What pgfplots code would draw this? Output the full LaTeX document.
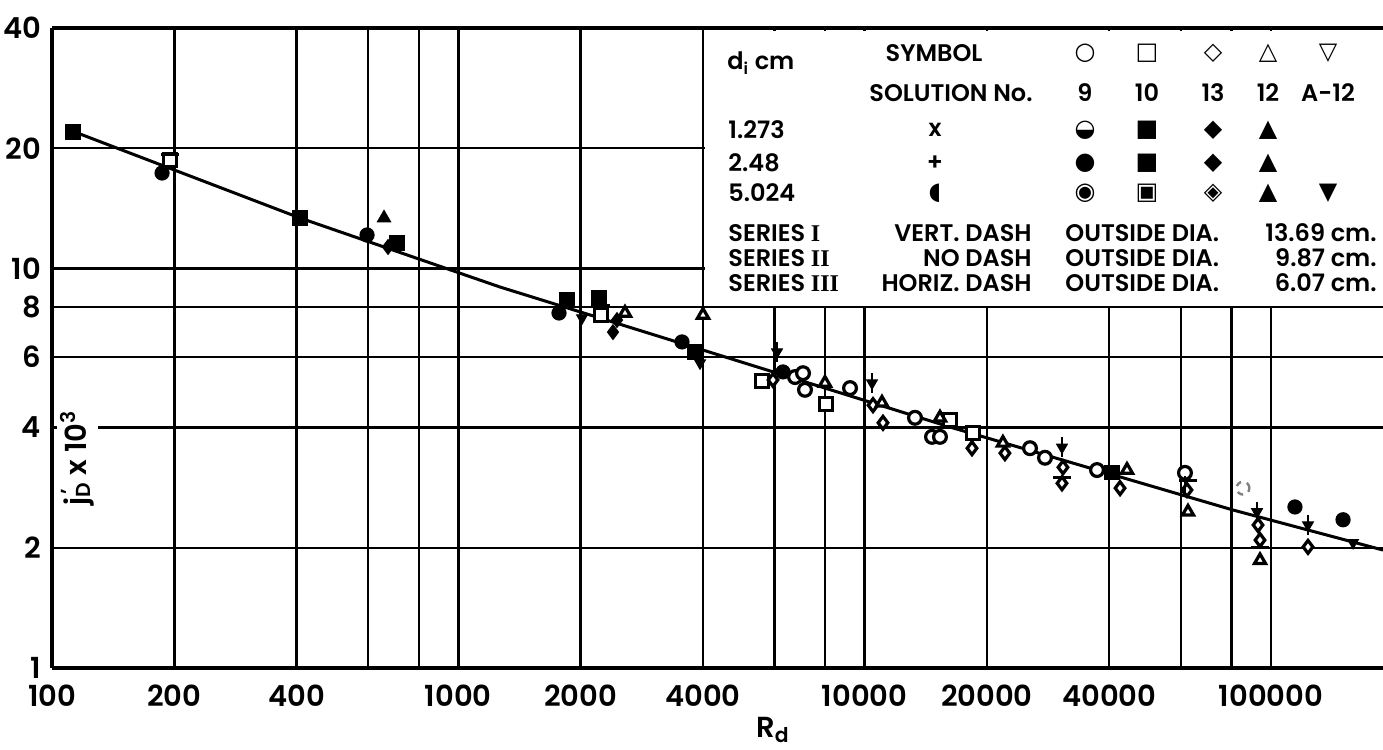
\documentclass[border=0pt]{standalone}
\usepackage{pgfplots}
\pgfplotsset{compat=1.18}
\usepackage{fontspec}
\setmainfont{Poppins}[BoldFont={Poppins SemiBold}]
\newfontfamily\sym{DejaVu Sans}
\newfontfamily\rn{Liberation Serif}
\newcommand\lab{\fontsize{14.5}{16}\selectfont\bfseries}
\newcommand\leg{\fontsize{12}{14}\selectfont\bfseries}
\newcommand\sy{\sym\fontsize{12}{12}\selectfont}
\pgfplotsset{
  fm/.style={only marks, mark size=3.3pt, mark options={draw=black, fill=black, line width=1pt, solid}},
  hm/.style={only marks, mark size=3.2pt, mark options={draw=black, fill=white, line width=1.6pt, solid}},
}
\begin{document}
\begin{tikzpicture}
\begin{axis}[
  xmode=log, ymode=log,
  scale only axis, width=665.5pt, height=320pt,
  xmin=100, xmax=188800, ymin=1, ymax=40,
  axis x line*=box, axis y line*=left,
  axis line style={line width=1.8pt},
  xtick={100,200,400,600,800,1000,2000,4000,6000,8000,10000,20000,40000,60000,80000,100000},
  xticklabels={100,200,400,{},{},1000,2000,4000,{},{},10000,20000,40000,{},{},100000},
  ytick={1,2,4,6,8,10,20,40},
  yticklabels={1,2,4,6,8,10,20,40},
  minor xtick={}, minor ytick={},
  major tick length=0pt,
  grid=major,
  major grid style={black, line width=1.2pt},
  tick label style={font=\lab},
  xticklabel style={yshift=-5pt},
  yticklabel style={xshift=-2pt},
  clip=false,
]
% legend area blanks the grid
\fill[white] (axis cs:4040,8.06) rectangle (rel axis cs:1.01,0.996);

% fitted curve
\addplot[no marks, line width=1.5pt] coordinates {(110.7,22.2) (407.8,13.38) (1266,8.99) (4002,6.25) (16230,4.01) (80680,2.486) (188800,1.974)};

% filled circles
\addplot[fm, mark=*] coordinates {(186.6,17.34) (596.2,12.13) (1769.5,7.74) (3553,6.55) (6298,5.51) (114600,2.53) (150500,2.35)};
% filled squares
\addplot[fm, mark=square*] coordinates {(112.6,21.96) (407.7,13.38) (706.6,11.58) (1851,8.34) (2220,8.44) (3824,6.18) (40630,3.09)};
% filled triangles
\addplot[fm, mark=triangle*] coordinates {(656.4,13.38)};
% filled diamonds
\addplot[fm, mark=diamond*] coordinates {(671.5,11.32) (2403,6.93) (2458,7.43)};
% hollow circles
\addplot[hm, mark=*] coordinates {(6742,5.35) (7054,5.47) (7134,4.97) (9207,5.02) (13305,4.23) (14655,3.79) (15330,3.79) (25530,3.55) (27800,3.36) (37330,3.13) (61450,3.08)};
\addplot[only marks, mark=*, mark size=3.2pt, mark options={draw=gray, fill=white, line width=1.2pt, dashed}] coordinates {(85370,2.82)};
% hollow squares
\addplot[hm, mark=square*] coordinates {(195.1,18.69) (2245,7.65) (5590,5.23) (8035,4.58) (16230,4.18) (18490,3.87)};
% hollow diamonds
\addplot[hm, mark=diamond*] coordinates {(5951,5.26) (10488,4.55) (11099,4.11) (18380,3.55) (22150,3.45) (30780,3.18) (30610,2.90) (42530,2.82) (62150,2.79) (92950,2.28) (94020,2.09) (123400,2.01)};
% hollow triangles
\addplot[hm, mark=triangle*] coordinates {(2572,7.74) (4002,7.65) (7989,5.17) (11035,4.61) (15330,4.23) (21900,3.66) (44240,3.13) (62510,2.46) (94020,1.86)};
% hollow inverted triangles
\addplot[hm, mark=triangle*, mark options={rotate=180}] coordinates {(2016,7.52) (3935,5.80) (6087,6.18) (10428,5.17) (30610,3.57) (92430,2.46) (123400,2.28) (159300,2.06)};
% series dashes
\addplot[only marks, mark=|, mark size=5pt, mark options={line width=1.4pt}] coordinates {(6087,6.18) (10428,5.17) (30610,3.57) (92430,2.46) (123400,2.28) (61450,2.85)};
\addplot[only marks, mark=-, mark size=4.5pt, mark options={line width=1.4pt}] coordinates {(195.1,19.3) (2245,8.1) (62510,2.95) (94020,2.0) (30610,3.0)};

% y label
\node[rotate=90, fill=white, inner sep=2pt, font=\lab] at (rel axis cs:0.019,0.328) {j\rlap{\textsuperscript{\,'}}\textsubscript{D} x 10\textsuperscript{3}};
% x label
\node[font=\lab, yshift=-31pt] at (rel axis cs:0.5417,0) {R\textsubscript{d}};

% legend table
\node[anchor=west, inner sep=0, font=\leg] at (rel axis cs:0.5071,0.9453) {d\textsubscript{i} cm};
\node[inner sep=0, font=\leg] at (rel axis cs:0.6627,0.9609) {SYMBOL};
\node[inner sep=0, font=\leg] at (rel axis cs:0.6754,0.8984) {SOLUTION No.};
\node[inner sep=0, font=\sy] at (rel axis cs:0.7761,0.9609) {○};
\node[inner sep=0, font=\sy] at (rel axis cs:0.8227,0.9609) {□};
\node[inner sep=0, font=\sy] at (rel axis cs:0.8723,0.9609) {◇};
\node[inner sep=0, font=\sy] at (rel axis cs:0.9136,0.9609) {△};
\node[inner sep=0, font=\sy] at (rel axis cs:0.9587,0.9609) {▽};
\node[inner sep=0, font=\leg] at (rel axis cs:0.7761,0.8984) {9};
\node[inner sep=0, font=\leg] at (rel axis cs:0.8227,0.8984) {10};
\node[inner sep=0, font=\leg] at (rel axis cs:0.8723,0.8984) {13};
\node[inner sep=0, font=\leg] at (rel axis cs:0.9136,0.8984) {12};
\node[inner sep=0, font=\leg] at (rel axis cs:0.9587,0.8984) {A-12};
% rows
\node[anchor=west, inner sep=0, font=\leg] at (rel axis cs:0.5079,0.8406) {1.273};
\node[anchor=west, inner sep=0, font=\leg] at (rel axis cs:0.5079,0.7891) {2.48};
\node[anchor=west, inner sep=0, font=\leg] at (rel axis cs:0.5079,0.7422) {5.024};
\node[inner sep=0, font=\leg] at (rel axis cs:0.6634,0.8406) {x};
\node[inner sep=0, font=\leg] at (rel axis cs:0.6634,0.7891) {+};
\node[inner sep=0, font=\sy] at (rel axis cs:0.6634,0.7422) {◖};
\node[inner sep=0, font=\sy] at (rel axis cs:0.7761,0.8406) {◒};
\node[inner sep=0, font=\sy] at (rel axis cs:0.8227,0.8406) {■};
\node[inner sep=0, font=\sy] at (rel axis cs:0.8723,0.8406) {◆};
\node[inner sep=0, font=\sy] at (rel axis cs:0.9136,0.8406) {▲};
\node[inner sep=0, font=\sy] at (rel axis cs:0.7761,0.7891) {●};
\node[inner sep=0, font=\sy] at (rel axis cs:0.8227,0.7891) {■};
\node[inner sep=0, font=\sy] at (rel axis cs:0.8723,0.7891) {◆};
\node[inner sep=0, font=\sy] at (rel axis cs:0.9136,0.7891) {▲};
\node[inner sep=0, font=\sy] at (rel axis cs:0.7761,0.7422) {◉};
\node[inner sep=0, font=\sy] at (rel axis cs:0.8227,0.7422) {▣};
\node[inner sep=0, font=\sy] at (rel axis cs:0.8723,0.7422) {◈};
\node[inner sep=0, font=\sy] at (rel axis cs:0.9136,0.7422) {▲};
\node[inner sep=0, font=\sy] at (rel axis cs:0.9587,0.7422) {▼};
% series
\node[anchor=west, inner sep=0, font=\leg] at (rel axis cs:0.5079,0.6797) {SERIES {\rn\bfseries I}};
\node[anchor=west, inner sep=0, font=\leg] at (rel axis cs:0.5079,0.6406) {SERIES {\rn\bfseries II}};
\node[anchor=west, inner sep=0, font=\leg] at (rel axis cs:0.5079,0.6016) {SERIES {\rn\bfseries III}};
\node[anchor=east, inner sep=0, font=\leg] at (rel axis cs:0.7363,0.6797) {VERT. DASH};
\node[anchor=east, inner sep=0, font=\leg] at (rel axis cs:0.7363,0.6406) {NO DASH};
\node[anchor=east, inner sep=0, font=\leg] at (rel axis cs:0.7363,0.6016) {HORIZ. DASH};
\node[anchor=west, inner sep=0, font=\leg] at (rel axis cs:0.7611,0.6797) {OUTSIDE DIA.};
\node[anchor=west, inner sep=0, font=\leg] at (rel axis cs:0.7611,0.6406) {OUTSIDE DIA.};
\node[anchor=west, inner sep=0, font=\leg] at (rel axis cs:0.7611,0.6016) {OUTSIDE DIA.};
\node[anchor=east, inner sep=0, font=\leg] at (rel axis cs:0.9955,0.6797) {13.69 cm.};
\node[anchor=east, inner sep=0, font=\leg] at (rel axis cs:0.9955,0.6406) {9.87 cm.};
\node[anchor=east, inner sep=0, font=\leg] at (rel axis cs:0.9955,0.6016) {6.07 cm.};
\end{axis}
\pgfresetboundingbox
\path ([shift={(-26pt,-40.5pt)}]current axis.south west) rectangle ([shift={(0pt,14pt)}]current axis.north east);
\end{tikzpicture}
\end{document}
